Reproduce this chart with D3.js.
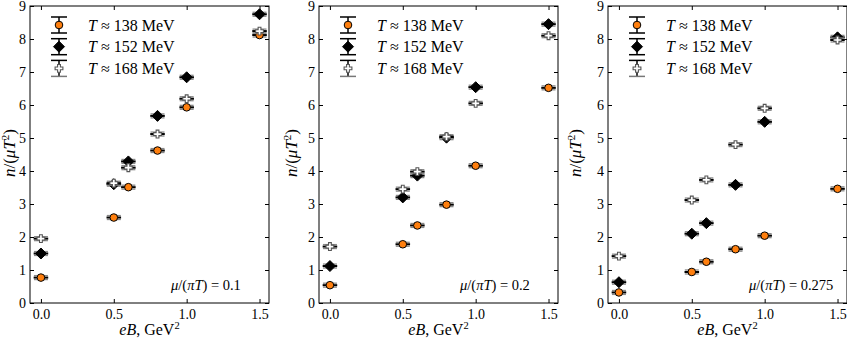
<!DOCTYPE html>
<html>
<head>
<meta charset="utf-8">
<script src="https://cdn.jsdelivr.net/npm/d3@7"></script>
<style>
  body { margin: 0; background: #fff; }
  svg text { font-family: "Liberation Serif", "Times New Roman", "DejaVu Serif", serif; fill: #000; }
  .axis path, .axis line { stroke: #000; }
</style>
</head>
<body>
<svg id="chart" width="847" height="340"></svg>
<script>
// eB values, GeV^2
var eB = [0, 0.5, 0.6, 0.8, 1.0, 1.5];

// n/(mu T^2)
var n138_mu01 = [0.77, 2.59, 3.51, 4.62, 5.93, 8.12];
var n152_mu01 = [1.50, 3.60, 4.29, 5.67, 6.84, 8.75];
var n168_mu01 = [1.95, 3.63, 4.10, 5.12, 6.19, 8.24];

var n138_mu02 = [0.54, 1.78, 2.35, 2.98, 4.16, 6.52];
var n152_mu02 = [1.12, 3.20, 3.86, 5.01, 6.54, 8.45];
var n168_mu02 = [1.71, 3.45, 3.98, 5.04, 6.05, 8.10];

var n138_mu0275 = [0.32, 0.94, 1.25, 1.63, 2.04, 3.46];
var n152_mu0275 = [0.63, 2.10, 2.42, 3.58, 5.49, 8.05];
var n168_mu0275 = [1.42, 3.12, 3.73, 4.80, 5.90, 7.97];

var xErr = 0.05;
var yErr = 0.06;

var seriesNames = ['138', '152', '168'];
var muLabels = ['0.1', '0.2', '0.275'];
var xTicks = [0, 0.5, 1.0, 1.5];
var yTicks = [0, 1, 2, 3, 4, 5, 6, 7, 8, 9];

var panels = [
    [n138_mu01, n152_mu01, n168_mu01],
    [n138_mu02, n152_mu02, n168_mu02],
    [n138_mu0275, n152_mu0275, n168_mu0275]
];

var svg = d3.select('#chart');
var lefts = [30, 319, 608];
var ylabelOffsets = [-15, -22, -27];
var plotW = 239, plotTop = 6, plotBottom = 303;
var serif = '"Liberation Serif", "Times New Roman", serif';

var x = d3.scaleLinear().domain([-0.075, 1.565]).range([0, plotW]);
var y = d3.scaleLinear().domain([0, 9]).range([plotBottom, plotTop]);

var styles = [
    { shape: 'circle', fill: '#ff7f0e', stroke: '#000', err: '#000', bar: '#888' },
    { shape: 'diamond', fill: '#000', stroke: '#000', err: '#000', bar: '#888' },
    { shape: 'plus', fill: '#fff', stroke: '#555', err: '#000', bar: '#888' }
];

function drawMarker(g, s, cx, cy) {
    if (s.shape === 'circle') {
        g.append('circle').attr('cx', cx).attr('cy', cy).attr('r', 3.8)
            .attr('fill', s.fill).attr('stroke', s.stroke).attr('stroke-width', 1);
    } else if (s.shape === 'diamond') {
        var r = 5.5;
        g.append('path')
            .attr('d', 'M' + cx + ',' + (cy - r) + 'L' + (cx + r) + ',' + cy + 'L' + cx + ',' + (cy + r) + 'L' + (cx - r) + ',' + cy + 'Z')
            .attr('fill', s.fill).attr('stroke', s.stroke).attr('stroke-width', 1);
    } else {
        var a = 3.9, b = 1.4;
        var pts = [[-b, -a], [b, -a], [b, -b], [a, -b], [a, b], [b, b], [b, a], [-b, a], [-b, b], [-a, b], [-a, -b], [-b, -b]];
        g.append('path')
            .attr('d', 'M' + pts.map(function (p) { return (cx + p[0]) + ',' + (cy + p[1]); }).join('L') + 'Z')
            .attr('fill', s.fill).attr('stroke', s.stroke).attr('stroke-width', 1.1);
    }
}

panels.forEach(function (series, pi) {
    var g = svg.append('g').attr('transform', 'translate(' + lefts[pi] + ',0)');

    // axes, ticks inward on all sides
    g.append('g').attr('class', 'axis').attr('transform', 'translate(0,' + plotBottom + ')')
        .call(d3.axisBottom(x).tickValues(xTicks).tickSizeInner(-4).tickSizeOuter(0).tickPadding(6)
            .tickFormat(d3.format('.1f')));
    g.append('g').attr('class', 'axis').attr('transform', 'translate(0,' + plotTop + ')')
        .call(d3.axisTop(x).tickValues(xTicks).tickSizeInner(-4).tickSizeOuter(0).tickFormat(''));
    g.append('g').attr('class', 'axis')
        .call(d3.axisLeft(y).tickValues(yTicks).tickSizeInner(-4).tickSizeOuter(0).tickPadding(4));
    g.append('g').attr('class', 'axis').attr('transform', 'translate(' + plotW + ',0)')
        .call(d3.axisRight(y).tickValues(yTicks).tickSizeInner(-4).tickSizeOuter(0).tickFormat(''));
    g.selectAll('.axis').attr('font-family', serif).attr('font-size', 14);
    g.selectAll('.axis text').style('font-size', '14px');
    g.selectAll('.axis .domain').remove();
    g.append('rect').attr('x', 0).attr('y', plotTop).attr('width', plotW).attr('height', plotBottom - plotTop)
        .attr('fill', 'none').attr('stroke', '#000').attr('stroke-width', 1);

    // data
    series.forEach(function (vals, si) {
        var s = styles[si];
        var sg = g.append('g');
        vals.forEach(function (v, i) {
            var cx = x(eB[i]), cy = y(v);
            // y error caps
            sg.append('line').attr('x1', cx - 7).attr('x2', cx + 7)
                .attr('y1', y(v + yErr)).attr('y2', y(v + yErr)).attr('stroke', s.bar).attr('stroke-width', 1.3);
            sg.append('line').attr('x1', cx - 7).attr('x2', cx + 7)
                .attr('y1', y(v - yErr)).attr('y2', y(v - yErr)).attr('stroke', s.bar).attr('stroke-width', 1.3);
            // x error
            sg.append('line').attr('x1', x(eB[i] - xErr)).attr('x2', x(eB[i] + xErr))
                .attr('y1', cy).attr('y2', cy).attr('stroke', s.err).attr('stroke-width', 2);
            drawMarker(sg, s, cx, cy);
        });
    });

    // legend
    seriesNames.forEach(function (name, si) {
        var s = styles[si];
        var ly = 25 + si * 21.7, lx = 29;
        var lg = g.append('g');
        lg.append('line').attr('x1', lx).attr('x2', lx).attr('y1', ly - 8).attr('y2', ly + 8)
            .attr('stroke', s.err).attr('stroke-width', 1.5);
        lg.append('line').attr('x1', lx - 8).attr('x2', lx + 8).attr('y1', ly - 8).attr('y2', ly - 8)
            .attr('stroke', s.err).attr('stroke-width', 1.5);
        lg.append('line').attr('x1', lx - 8).attr('x2', lx + 8).attr('y1', ly + 8).attr('y2', ly + 8)
            .attr('stroke', si === 2 ? '#777' : s.err).attr('stroke-width', 1.5);
        drawMarker(lg, s, lx, ly);
        var t = lg.append('text').attr('x', 58).attr('y', ly + 5.5).style('font-size', '16px');
        t.append('tspan').style('font-style', 'italic').text('T');
        t.append('tspan').text(' \u2248 ' + name + ' MeV');
    });

    // mu annotation
    var at = g.append('text').attr('x', 141).attr('y', 290).style('font-size', '14.5px');
    at.append('tspan').style('font-style', 'italic').text('\u03bc');
    at.append('tspan').text('/(');
    at.append('tspan').style('font-style', 'italic').text('\u03c0T');
    at.append('tspan').text(') = ' + muLabels[pi]);

    // axis labels
    var xl = g.append('text').attr('x', plotW / 2).attr('y', 335).attr('text-anchor', 'middle').style('font-size', '16px');
    xl.append('tspan').style('font-style', 'italic').text('eB');
    xl.append('tspan').text(', GeV');
    xl.append('tspan').attr('dy', -6).style('font-size', '10.5px').text('2');

    var yl = g.append('text').attr('transform', 'translate(' + ylabelOffsets[pi] + ',' + 153 + ') rotate(-90)')
        .attr('text-anchor', 'middle').style('font-size', '17px');
    yl.append('tspan').style('font-style', 'italic').text('n');
    yl.append('tspan').text('/(');
    yl.append('tspan').style('font-style', 'italic').text('\u03bcT');
    yl.append('tspan').attr('dy', -6).style('font-size', '11px').text('2');
    yl.append('tspan').attr('dy', 6).text(')');
});
</script>
</body>
</html>
